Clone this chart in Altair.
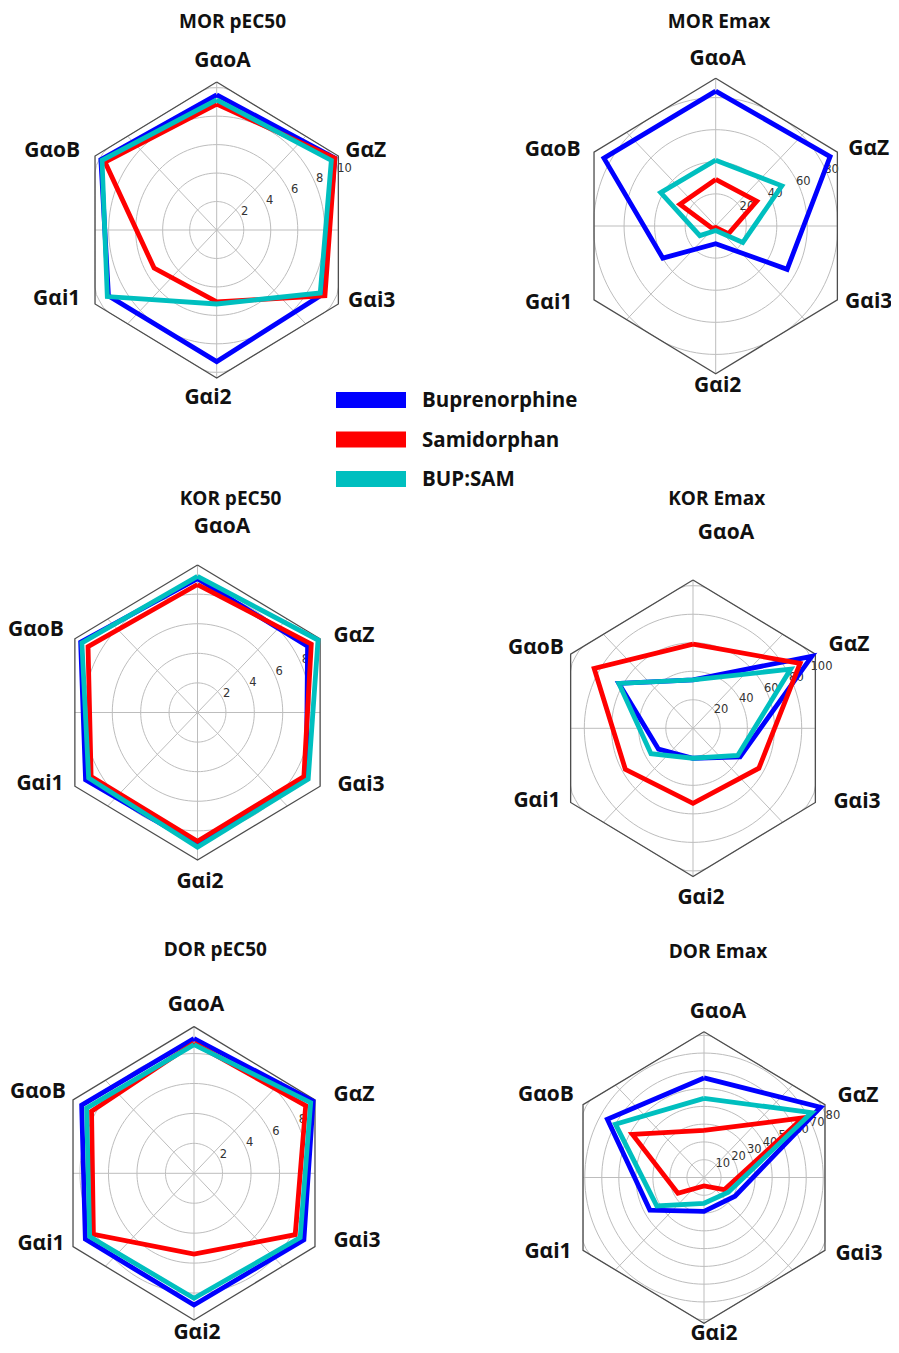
import altair as alt
import pandas as pd

# ---------------- data ----------------
AXES = ["GαoA", "GαZ", "Gαi3", "Gαi2", "Gαi1", "GαoB"]
SERIES = ["Buprenorphine", "Samidorphan", "BUP:SAM"]
COLORS = ["#0000ff", "#ff0000", "#00bfbf"]
PANELS = ["MOR pEC50", "MOR Emax", "KOR pEC50", "KOR Emax", "DOR pEC50", "DOR Emax"]

# values in AXES order
mor_pec50_bup = [9.5, 10.1, 9.05, 9.25, 9.25, 9.9]
mor_pec50_sam = [8.85, 10.1, 9.25, 5.05, 5.35, 9.55]
mor_pec50_mix = [9.15, 9.8, 8.85, 5.2, 9.35, 9.8]

mor_emax_bup = [84, 86.5, 54, 11, 40, 84.5]
mor_emax_sam = [29, 31, 9.6, 1, 2.8, 27]
mor_emax_mix = [41, 50, 20.5, 2.8, 12, 41.6]

kor_pec50_bup = [9.05, 8.95, 8.85, 8.95, 9.1, 9.5]
kor_pec50_sam = [8.65, 9.25, 8.65, 8.7, 8.65, 8.9]
kor_pec50_mix = [9.2, 9.8, 9.0, 9.1, 8.85, 9.4]

kor_emax_bup = [34, 101, 40, 21, 29.3, 63]
kor_emax_sam = [59, 91, 56, 52.6, 57.5, 84]
kor_emax_mix = [34, 83, 38, 21, 35.7, 63]

dor_pec50_bup = [9.0, 9.65, 8.9, 8.8, 8.8, 9.1]
dor_pec50_sam = [8.7, 9.05, 8.2, 5.4, 8.15, 8.3]
dor_pec50_mix = [8.6, 9.45, 8.6, 8.35, 8.45, 8.7]

dor_emax_bup = [56, 79, 21, 19, 36.7, 65.5]
dor_emax_sam = [26.5, 67, 13.7, 4.7, 17.7, 48.5]
dor_emax_mix = [44.5, 73, 16.5, 14.5, 32, 60]

VALUES = {
    "MOR pEC50": [mor_pec50_bup, mor_pec50_sam, mor_pec50_mix],
    "MOR Emax": [mor_emax_bup, mor_emax_sam, mor_emax_mix],
    "KOR pEC50": [kor_pec50_bup, kor_pec50_sam, kor_pec50_mix],
    "KOR Emax": [kor_emax_bup, kor_emax_sam, kor_emax_mix],
    "DOR pEC50": [dor_pec50_bup, dor_pec50_sam, dor_pec50_mix],
    "DOR Emax": [dor_emax_bup, dor_emax_sam, dor_emax_mix],
}

# radial axis: ticks and maximum (outer frame)
TICKS = {
    "MOR pEC50": [2, 4, 6, 8, 10],
    "MOR Emax": [20, 40, 60, 80],
    "KOR pEC50": [2, 4, 6, 8],
    "KOR Emax": [20, 40, 60, 80, 100],
    "DOR pEC50": [2, 4, 6, 8],
    "DOR Emax": [10, 20, 30, 40, 50, 60, 70, 80],
}
RMAX = {"MOR pEC50": 10.4, "MOR Emax": 92, "KOR pEC50": 9.97,
        "KOR Emax": 104, "DOR pEC50": 9.8, "DOR Emax": 82}

# ---------------- layout (page pixels) ----------------
CENTER = {
    "MOR pEC50": (216.7, 230.0, 140.5, 148.0),
    "MOR Emax": (715.7, 226.0, 140.5, 147.7),
    "KOR pEC50": (197.5, 712.5, 141.6, 147.5),
    "KOR Emax": (693.0, 728.3, 141.3, 148.3),
    "DOR pEC50": (194.0, 1173.3, 139.7, 146.7),
    "DOR Emax": (704.0, 1177.5, 139.7, 145.8),
}
TITLE_POS = {
    "MOR pEC50": (232.5, 19.7), "MOR Emax": (719, 19.7),
    "KOR pEC50": (230.5, 496.5), "KOR Emax": (716.7, 496),
    "DOR pEC50": (215.3, 947), "DOR Emax": (718, 949),
}
LABEL_OFF = {
    "MOR pEC50": [(5.8, -171), (149, -81), (155, 69), (-8.7, 166), (-160, 67.5), (-164.5, -81)],
    "MOR Emax": [(2, -168.5), (153, -78.5), (153, 74.5), (2, 158.5), (-167, 75.5), (-163, -77.5)],
    "KOR pEC50": [(24.5, -187.5), (156.5, -78.5), (163.5, 70.5), (2.5, 167.5), (-157.5, 69.5), (-161.5, -84.5)],
    "KOR Emax": [(33, -197), (156, -85), (164, 72), (8, 168), (-156, 71), (-157, -82)],
    "DOR pEC50": [(2, -170), (160, -80), (163, 66), (3, 158.5), (-153, 69), (-156, -83)],
    "DOR Emax": [(14, -167.5), (154, -83.5), (155, 74.5), (10, 154.5), (-156, 72.5), (-158, -84.5)],
}
LEGEND = dict(x0=336, x1=406, y0=400, dy=39.5, tx=422)

W, H = 883, 1337
FONT = "Open Sans"


def geom(p):
    cx, cy, rx, ry = CENTER[p]
    return dict(panel=p, cx=cx, cy=cy, rx=rx, ry=ry, rmax=RMAX[p])


HEXF = "cos(PI/6)/cos((datum.theta % (PI/3)) - PI/6)"

XS = alt.Scale(domain=[8, 8 + W], nice=False, zero=False)
X = alt.X("px:Q", scale=XS, axis=None)
Y = alt.Y("py:Q", scale=alt.Scale(domain=[8, 8 + H], nice=False, zero=False, reverse=True), axis=None)

# --- rings (clipped to hexagon) ---
ring_rows = []
for p in PANELS:
    for t in TICKS[p]:
        for k in range(121):
            ring_rows.append({**geom(p), "tick": t, "k": k, "gid": f"{p}-{t}"})
rings = alt.Chart(pd.DataFrame(ring_rows)).transform_calculate(
    theta="datum.k * PI / 60"
).transform_calculate(
    f=f"min(datum.tick / datum.rmax, {HEXF})"
).transform_calculate(
    px="datum.cx + datum.f * datum.rx * sin(datum.theta)",
    py="datum.cy - datum.f * datum.ry * cos(datum.theta)",
).mark_line(color="#bdbdbd", strokeWidth=1).encode(x=X, y=Y, detail="gid:N", order="k:Q")

# --- spokes ---
spoke_rows = []
for p in PANELS:
    for j in range(8):
        spoke_rows.append({**geom(p), "j": j})
spokes = alt.Chart(pd.DataFrame(spoke_rows)).transform_calculate(
    theta="datum.j * PI / 4"
).transform_calculate(
    f=HEXF
).transform_calculate(
    px="datum.cx", py="datum.cy",
    qx="datum.cx + datum.f * datum.rx * sin(datum.theta)",
    qy="datum.cy - datum.f * datum.ry * cos(datum.theta)",
).mark_rule(color="#bdbdbd", strokeWidth=1).encode(x=X, y=Y, x2="qx:Q", y2="qy:Q")

# --- hexagon frame ---
frame_rows = []
for p in PANELS:
    for k in range(7):
        frame_rows.append({**geom(p), "k": k})
frame = alt.Chart(pd.DataFrame(frame_rows)).transform_calculate(
    theta="datum.k * PI / 3"
).transform_calculate(
    px="datum.cx + datum.rx * sin(datum.theta)",
    py="datum.cy - datum.ry * cos(datum.theta)",
).mark_line(color="#4d4d4d", strokeWidth=1.3, strokeJoin="miter").encode(
    x=X, y=Y, detail="panel:N", order="k:Q")

# --- radial tick labels ---
tick_rows = []
for p in PANELS:
    for t in TICKS[p]:
        tick_rows.append({**geom(p), "tick": t, "label": str(t)})
tick_labels = alt.Chart(pd.DataFrame(tick_rows)).transform_calculate(
    theta="3 * PI / 8", f="datum.tick / datum.rmax"
).transform_calculate(
    px="datum.cx + datum.f * datum.rx * sin(datum.theta)",
    py="datum.cy - datum.f * datum.ry * cos(datum.theta)",
).mark_text(font="DejaVu Sans", fontSize=11.5, color="#333333", dx=3, dy=-7).encode(
    x=X, y=Y, text="label:N")

# --- data polygons ---
line_rows = []
for p in PANELS:
    for s, vals in zip(SERIES, VALUES[p]):
        for k in range(7):
            line_rows.append({**geom(p), "series": s, "k": k,
                              "axis": AXES[k % 6], "value": vals[k % 6]})
lines_df = pd.DataFrame(line_rows)
color_scale = alt.Scale(domain=SERIES, range=COLORS)


def series_layer(s):
    return alt.Chart(lines_df).transform_filter(
        alt.datum.series == s
    ).transform_calculate(
        theta="datum.k * PI / 3", f="datum.value / datum.rmax"
    ).transform_calculate(
        px="datum.cx + datum.f * datum.rx * sin(datum.theta)",
        py="datum.cy - datum.f * datum.ry * cos(datum.theta)",
    ).mark_line(strokeWidth=4.8, strokeJoin="miter").encode(
        x=X, y=Y, detail="panel:N", order="k:Q",
        color=alt.Color("series:N", scale=color_scale, legend=None))


data_layers = [series_layer(s) for s in SERIES]

# --- category labels ---
lab_rows = []
for p in PANELS:
    cx, cy, rx, ry = CENTER[p]
    for a, (ox, oy) in zip(AXES, LABEL_OFF[p]):
        lab_rows.append({"panel": p, "axis": a, "cx": cx, "cy": cy, "ox": ox, "oy": oy})
cat_labels = alt.Chart(pd.DataFrame(lab_rows)).transform_calculate(
    px="datum.cx + datum.ox", py="datum.cy + datum.oy"
).mark_text(font=FONT, fontWeight="bold", fontSize=21, color="#111111",
            align="center", baseline="alphabetic", dy=7.5).encode(x=X, y=Y, text="axis:N")

# --- panel titles ---
title_rows = [{"panel": p, "tx": TITLE_POS[p][0], "ty": TITLE_POS[p][1]} for p in PANELS]
titles = alt.Chart(pd.DataFrame(title_rows)).transform_calculate(
    px="datum.tx", py="datum.ty"
).mark_text(font=FONT, fontWeight="bold", fontSize=19, color="#111111",
            align="center", baseline="alphabetic", dy=8.5).encode(x=X, y=Y, text="panel:N")

# --- legend ---
leg_df = pd.DataFrame({"series": SERIES, "idx": list(range(len(SERIES)))})
leg_base = alt.Chart(leg_df).transform_calculate(
    py=f"{LEGEND['y0']} + datum.idx * {LEGEND['dy']}",
    px=f"{LEGEND['x0']}", qx=f"{LEGEND['x1']}", tx=f"{LEGEND['tx']}",
)
leg_swatch = leg_base.mark_rule(strokeWidth=16).encode(
    x=X, y=Y, x2="qx:Q",
    color=alt.Color("series:N", scale=color_scale, legend=None))
leg_text = leg_base.transform_calculate(px2="datum.tx").mark_text(
    font=FONT, fontWeight="bold", fontSize=20.5, color="#111111",
    align="left", baseline="alphabetic", dy=7).encode(
    x=alt.X("px2:Q", scale=XS, axis=None),
    y=Y, text="series:N")

chart = alt.layer(
    rings, spokes, tick_labels, frame, *data_layers, cat_labels, titles, leg_swatch, leg_text
).properties(
    width=W, height=H, padding=0, autosize=alt.AutoSizeParams(type="none")
).configure_view(stroke=None)

chart.save("out.html", embed_options={"renderer": "svg", "actions": False})
